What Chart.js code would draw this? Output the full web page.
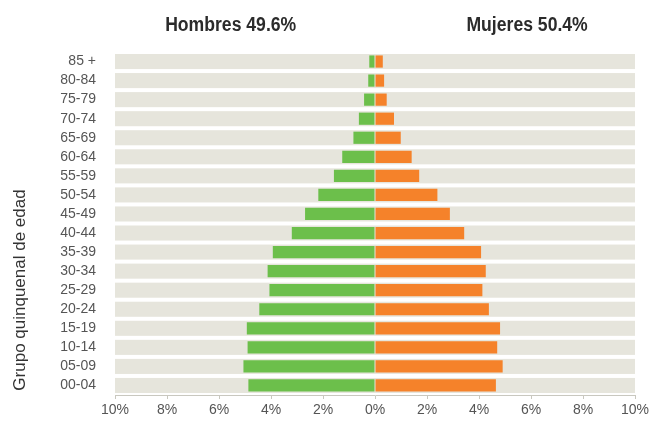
<!DOCTYPE html>
<html>
<head>
<meta charset="utf-8">
<script src="https://cdn.jsdelivr.net/npm/chart.js@4"></script>
<style>
  html, body { margin: 0; padding: 0; background: #fff; }
  #wrap { width: 653px; height: 429px; }
</style>
</head>
<body>
<div id="wrap"><canvas id="pyramid"></canvas></div>
<script>
const ageGroups = ['85 +', '80-84', '75-79', '70-74', '65-69', '60-64', '55-59', '50-54', '45-49',
  '40-44', '35-39', '30-34', '25-29', '20-24', '15-19', '10-14', '05-09', '00-04'];
// % of population
const men = [0.22, 0.26, 0.42, 0.62, 0.83, 1.26, 1.58, 2.18, 2.69,
  3.2, 3.93, 4.13, 4.06, 4.45, 4.93, 4.9, 5.06, 4.87];
const women = [0.3, 0.35, 0.45, 0.73, 0.99, 1.41, 1.7, 2.4, 2.88,
  3.43, 4.08, 4.26, 4.13, 4.38, 4.81, 4.7, 4.91, 4.65];
const xTicks = [-10, -8, -6, -4, -2, 0, 2, 4, 6, 8, 10];
const headerMen = 'Hombres 49.6%';
const headerWomen = 'Mujeres 50.4%';
const yTitle = 'Grupo quinquenal de edad';

const SANS = '"Liberation Sans", Arial, sans-serif';

// grey band behind every age group
const bands = {
  id: 'bands',
  beforeDatasetsDraw(chart) {
    const { ctx, chartArea, scales } = chart;
    const y = scales.y;
    const step = (y.getPixelForValue(1) - y.getPixelForValue(0));
    ctx.save();
    ctx.fillStyle = '#e6e5dc';
    ageGroups.forEach((g, i) => {
      const c = y.getPixelForValue(i);
      const h = step - 4;
      ctx.fillRect(chartArea.left, c - h / 2, chartArea.right - chartArea.left, h);
    });
    ctx.restore();
  }
};

// condensed text: squeeze horizontally
function narrowText(ctx, text, x, y, squeeze) {
  ctx.save();
  ctx.translate(x, y);
  ctx.scale(squeeze, 1);
  ctx.fillText(text, 0, 0);
  ctx.restore();
}

// the two headers and the rotated axis title
const labels = {
  id: 'labels',
  afterDraw(chart) {
    const { ctx } = chart;
    const x = chart.scales.x;
    ctx.save();
    ctx.fillStyle = '#2b2b2b';
    ctx.font = 'bold 20px ' + SANS;
    ctx.textAlign = 'center';
    ctx.textBaseline = 'middle';
    narrowText(ctx, headerMen, x.getPixelForValue(-5.55), 25, 0.88);
    narrowText(ctx, headerWomen, x.getPixelForValue(5.85), 25, 0.88);

    ctx.font = '17px ' + SANS;
    ctx.fillStyle = '#333';
    ctx.translate(20, 290);
    ctx.rotate(-Math.PI / 2);
    narrowText(ctx, yTitle, 0, 0, 1.0);
    ctx.restore();
  }
};

new Chart(document.getElementById('pyramid'), {
  type: 'bar',
  data: {
    labels: ageGroups,
    datasets: [
      {
        label: 'Hombres',
        data: men.map(v => -v),
        backgroundColor: '#6cbf4b',
        barPercentage: 0.64,
        categoryPercentage: 1
      },
      {
        label: 'Mujeres',
        data: women,
        backgroundColor: '#f5822a',
        barPercentage: 0.64,
        categoryPercentage: 1
      }
    ]
  },
  options: {
    indexAxis: 'y',
    responsive: true,
    maintainAspectRatio: false,
    animation: false,
    layout: { padding: { top: 52, right: 18, left: 0, bottom: 0 } },
    scales: {
      x: {
        stacked: true,
        min: -10,
        max: 10,
        afterBuildTicks: s => { s.ticks = xTicks.map(v => ({ value: v })); },
        afterFit: s => { s.height = 34; },
        grid: { drawOnChartArea: false, color: '#c9c8bf', tickLength: 4 },
        border: { color: '#c9c8bf' },
        ticks: {
          color: '#555',
          font: { size: 14, family: SANS },
          padding: 3,
          callback: v => Math.abs(v) + '%'
        }
      },
      y: {
        stacked: true,
        afterFit: s => { s.width = 115; },
        grid: { display: false },
        border: { display: false },
        ticks: {
          color: '#555',
          font: { size: 14, family: SANS },
          padding: 11,
          autoSkip: false
        }
      }
    },
    plugins: {
      legend: { display: false },
      tooltip: { enabled: false }
    }
  },
  plugins: [bands, labels]
});
</script>
</body>
</html>
